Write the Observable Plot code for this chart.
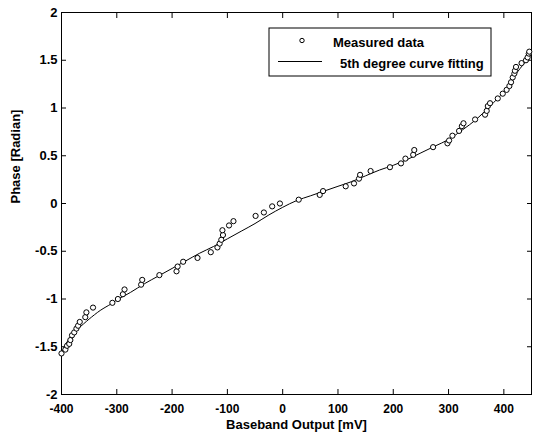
<!DOCTYPE html>
<html><head><meta charset="utf-8">
<script src="https://cdn.jsdelivr.net/npm/d3@7"></script>
<script src="https://cdn.jsdelivr.net/npm/@observablehq/plot@0.6"></script>
<style>body{margin:0;background:#fff} svg{font-family:"Liberation Sans",Arial,sans-serif}</style>
</head><body><div id="chart"></div>
<script>
// Measured data (Baseband Output [mV], Phase [Radian])
const measuredX = [-400,-393,-390,-386,-384,-381,-377,-373,-370,-367,-357,-355,-343,-308,-298,-289,-286,-256,-254,-223,-192,-190,-180,-154,-130,-118,-114,-111,-108,-109,-97,-89,-49,-34,-19,-5,29,67,73,114,129,138,140,159,194,214,222,236,238,272,298,301,307,319,324,327,348,366,369,371,375,389,398,405,410,413,416,419,420,422,432,440,443,445,446];
const measuredY = [-1.57,-1.53,-1.49,-1.47,-1.43,-1.38,-1.35,-1.31,-1.28,-1.24,-1.19,-1.14,-1.09,-1.04,-1.00,-0.95,-0.90,-0.85,-0.80,-0.75,-0.71,-0.66,-0.61,-0.57,-0.51,-0.46,-0.42,-0.38,-0.33,-0.28,-0.23,-0.185,-0.13,-0.094,-0.03,0.00,0.04,0.09,0.13,0.18,0.21,0.26,0.30,0.34,0.38,0.42,0.47,0.51,0.56,0.59,0.63,0.66,0.71,0.76,0.81,0.84,0.88,0.93,0.97,1.02,1.05,1.10,1.15,1.19,1.23,1.27,1.32,1.36,1.39,1.43,1.47,1.50,1.53,1.57,1.59];
// 5th degree curve fitting
const fitX = [-400,-395,-390,-380,-370,-360,-350,-330,-310,-300,-275,-250,-225,-200,-175,-150,-125,-100,-75,-50,-25,0,25,50,75,100,125,150,175,200,225,250,275,300,325,350,375,400,425,440,450];
const fitY = [-1.57,-1.50,-1.45,-1.37,-1.31,-1.26,-1.21,-1.12,-1.05,-1.01,-0.93,-0.84,-0.76,-0.68,-0.60,-0.52,-0.45,-0.37,-0.29,-0.21,-0.12,-0.04,0.03,0.08,0.13,0.18,0.23,0.29,0.35,0.40,0.46,0.53,0.60,0.67,0.77,0.88,1.02,1.17,1.38,1.49,1.56];
const xTicks = [-400,-300,-200,-100,0,100,200,300,400];
const yTicks = [-2,-1.5,-1,-0.5,0,0.5,1,1.5,2];
const xLabel = "Baseband Output [mV]";
const yLabel = "Phase [Radian]";
const legendLabels = ["Measured data", "5th degree curve fitting"];

const measured = measuredX.map((x, i) => ({x, y: measuredY[i]}));
const fit = fitX.map((x, i) => ({x, y: fitY[i]}));
const fmt = d => String(d);
const blank = () => "";

const chart = Plot.plot({
  width: 535, height: 436,
  marginLeft: 61, marginRight: 4, marginTop: 12, marginBottom: 42,
  style: {fontFamily: "Liberation Sans, Arial, sans-serif", fontSize: "13px", fontWeight: "bold", background: "white", color: "black"},
  x: {domain: [-400, 450]},
  y: {domain: [-2, 2]},
  marks: [
    Plot.axisX(xTicks, {anchor: "bottom", tickSize: 0, tickPadding: 10, fontSize: 12, tickFormat: fmt, label: null}),
    Plot.axisX(xTicks, {anchor: "bottom", tickSize: -5, tickFormat: blank, label: null}),
    Plot.axisX(xTicks, {anchor: "top", tickSize: -5, tickFormat: blank, label: null}),
    Plot.axisY(yTicks, {anchor: "left", tickSize: 0, tickPadding: 4, tickFormat: fmt, label: null}),
    Plot.axisY(yTicks, {anchor: "left", tickSize: -5, tickFormat: blank, label: null}),
    Plot.axisY(yTicks, {anchor: "right", tickSize: -5, tickFormat: blank, label: null}),
    Plot.frame({stroke: "black", strokeWidth: 1}),
    Plot.line(fit, {x: "x", y: "y", stroke: "black", strokeWidth: 1, curve: "catmull-rom"}),
    Plot.dot(measured, {x: "x", y: "y", r: 2.6, stroke: "black", fill: "white", strokeWidth: 1}),
    Plot.text([xLabel], {text: d => d, frameAnchor: "bottom", dy: 34, fontSize: 13, fontWeight: "bold"}),
    Plot.text([yLabel], {text: d => d, frameAnchor: "left", dx: -46, rotate: -90, fontSize: 13, fontWeight: "bold"})
  ]
});
document.getElementById("chart").appendChild(chart);

// Legend box
const svg = d3.select(chart);
const lg = svg.append("g")
  .attr("font-family", "Liberation Sans, Arial, sans-serif")
  .attr("font-size", 13).attr("font-weight", "bold")
  .attr("text-anchor", "start");
lg.append("rect").attr("x", 269).attr("y", 28).attr("width", 222).attr("height", 48).attr("fill", "white").attr("stroke", "black");
lg.append("circle").attr("cx", 302).attr("cy", 40.5).attr("r", 2.2).attr("fill", "white").attr("stroke", "black");
lg.append("line").attr("x1", 278).attr("x2", 322).attr("y1", 61.5).attr("y2", 61.5).attr("stroke", "black");
lg.append("text").attr("x", 333).attr("y", 47).attr("text-anchor", "start").text(legendLabels[0]);
lg.append("text").attr("x", 340).attr("y", 68).attr("text-anchor", "start").text(legendLabels[1]);
</script>
</body></html>
